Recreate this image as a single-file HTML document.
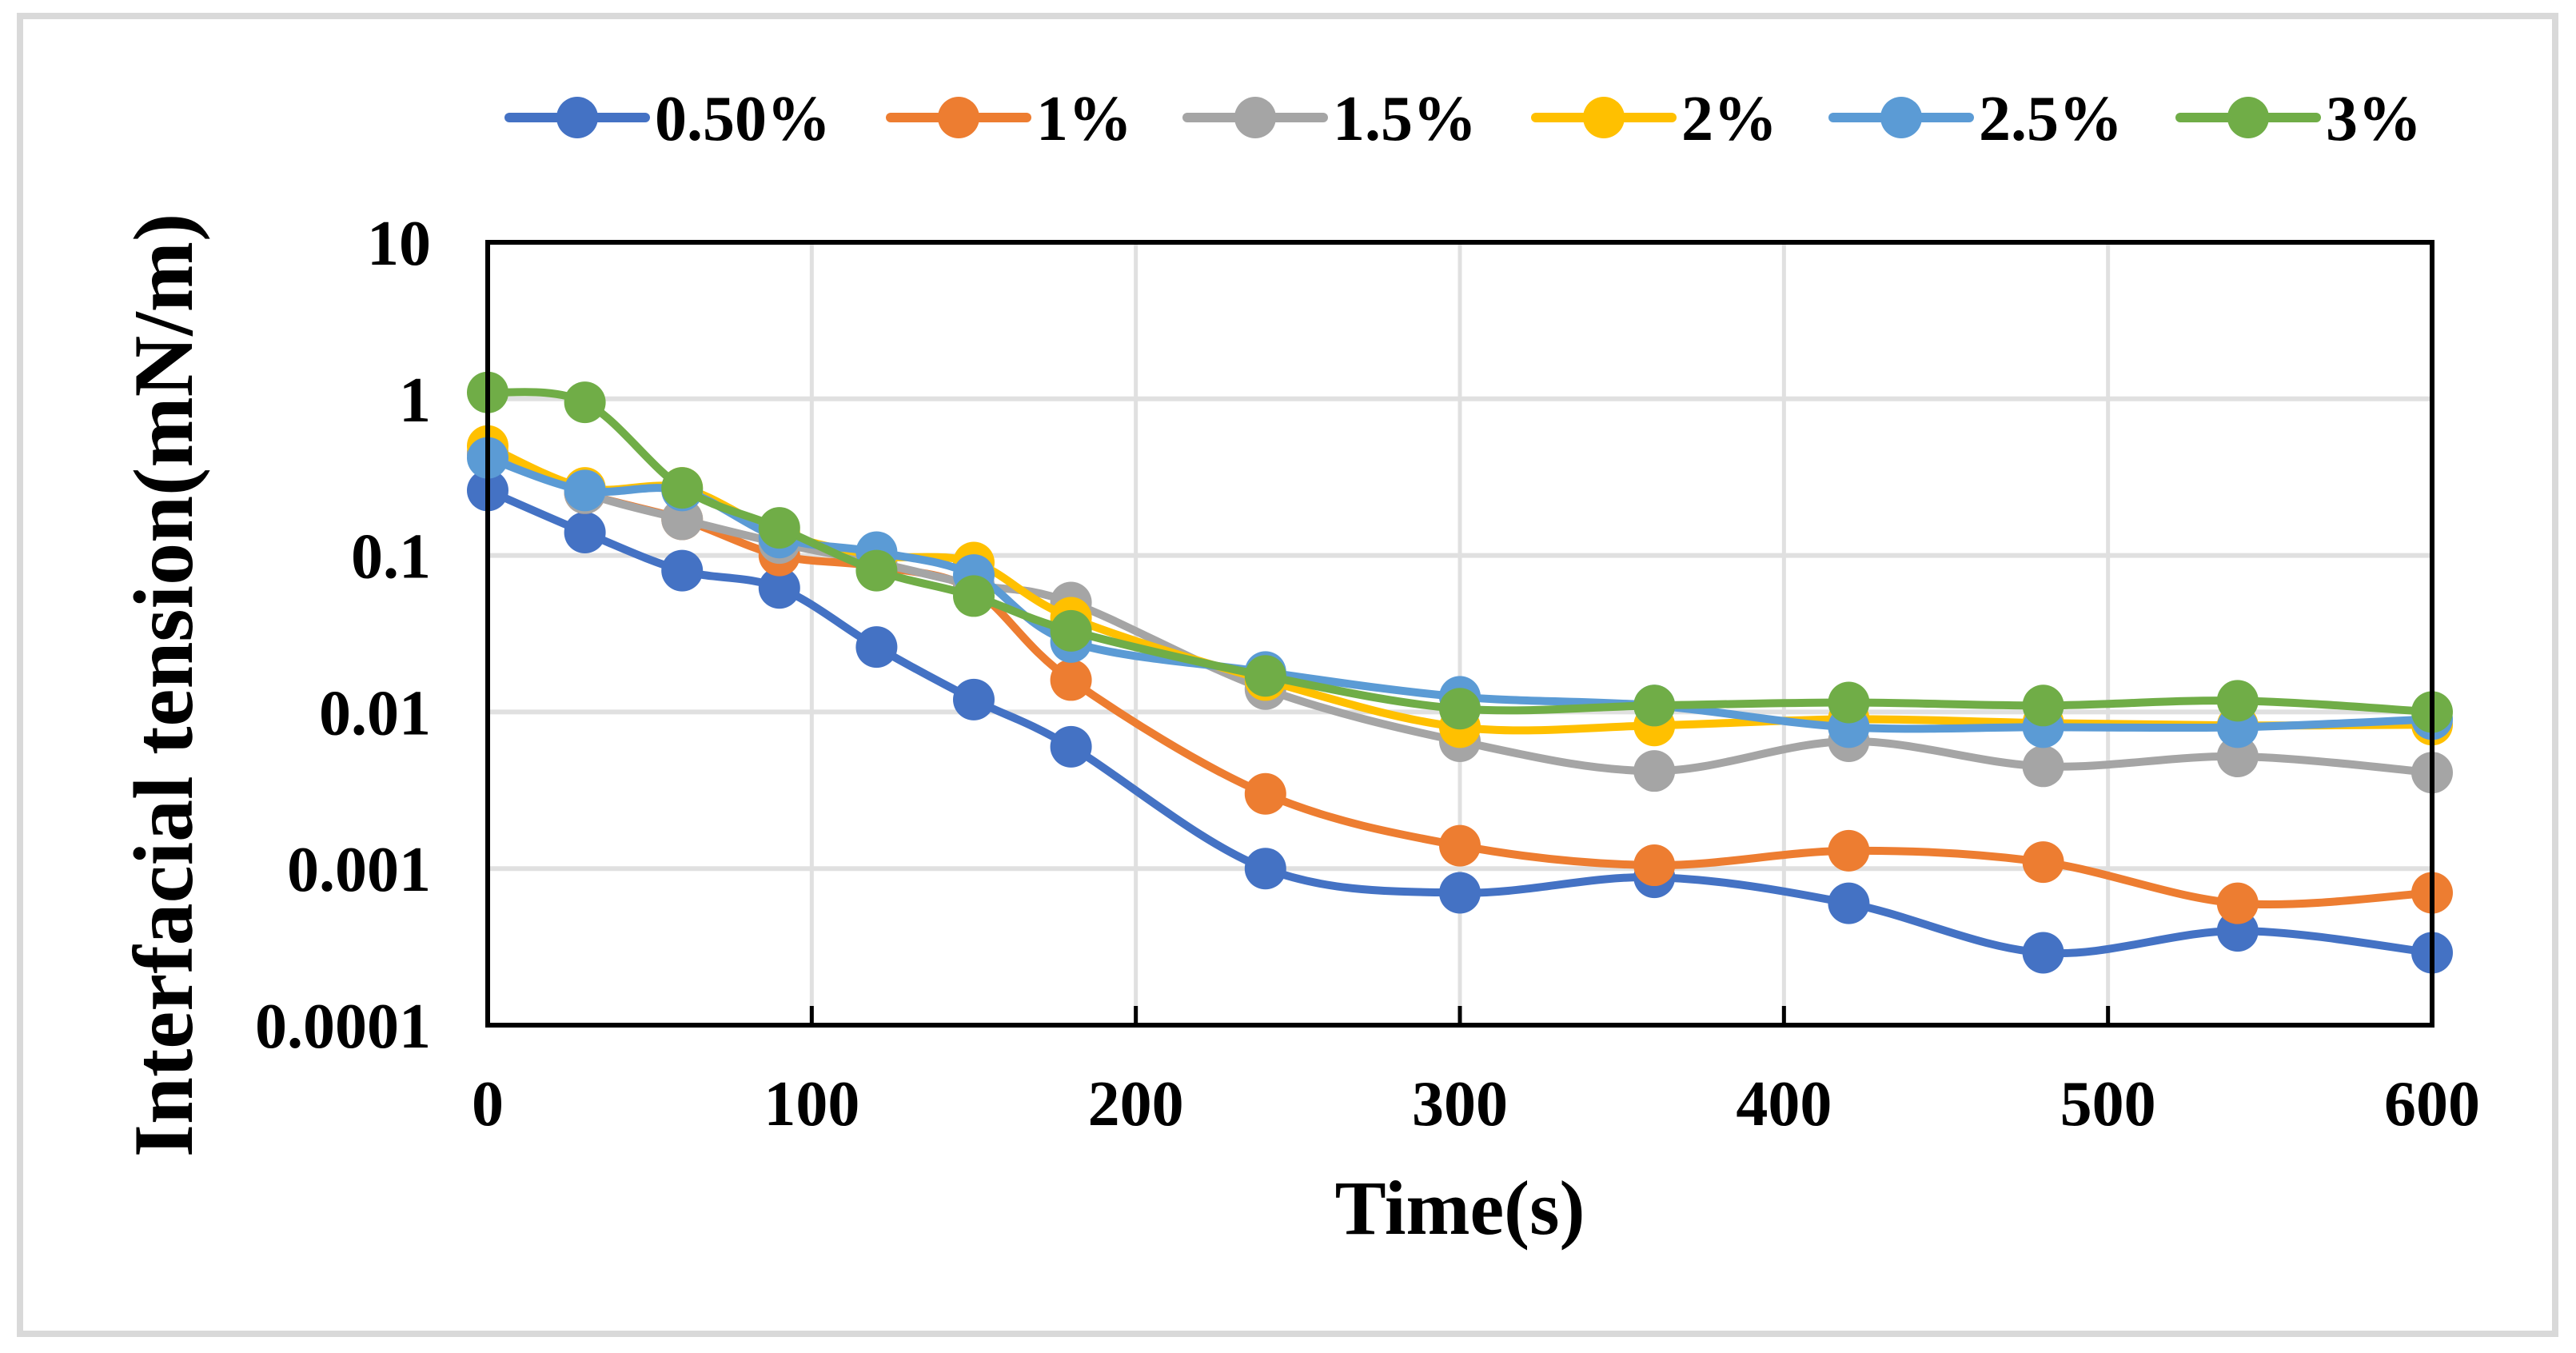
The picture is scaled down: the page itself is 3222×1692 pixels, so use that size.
<!DOCTYPE html>
<html><head><meta charset="utf-8"><style>
html,body{margin:0;padding:0;background:#fff}
svg{display:block;font-family:"Liberation Serif",serif;font-weight:bold}
</style></head><body>
<svg width="3222" height="1692" viewBox="0 0 3222 1692" xmlns="http://www.w3.org/2000/svg">
<rect x="25" y="20" width="3171" height="1648" fill="#fff" stroke="#d9d9d9" stroke-width="8"/>
<g id="grid"></g>
<g id="series"></g>
<rect x="610" y="303" width="2432" height="979" fill="none" stroke="#000" stroke-width="6"/>
<g id="ticks"></g>
<g id="legend"></g>
<text x="1826" y="1543" font-size="96" text-anchor="middle">Time(s)</text>
<text transform="translate(240,857) rotate(-90)" font-size="106" font-family="Liberation Serif, serif" font-weight="bold" text-anchor="middle">Interfacial tension(mN/m)</text>
</svg>
<script>
const times=[0,30,60,90,120,150,180,240,300,360,420,480,540,600];
const seriesNames=["0.50%","1%","1.5%","2%","2.5%","3%"];
const seriesColors=["#4472c4","#ed7d31","#a5a5a5","#ffc000","#5b9bd5","#70ad47"];
const s050=[0.26,0.14,0.08,0.062,0.026,0.012,0.006,0.001,0.0007,0.00088,0.0006,0.00029,0.0004,0.00029];
const s1=[0.45,0.25,0.17,0.1,0.085,0.06,0.016,0.003,0.0014,0.00105,0.0013,0.0011,0.0006,0.0007];
const s15=[0.45,0.25,0.17,0.12,0.09,0.065,0.05,0.014,0.0065,0.0042,0.0065,0.0045,0.0052,0.0041];
const s2=[0.5,0.27,0.27,0.14,0.1,0.09,0.04,0.016,0.008,0.0082,0.009,0.0085,0.0082,0.0083];
const s25=[0.42,0.26,0.26,0.13,0.105,0.075,0.028,0.018,0.0125,0.011,0.008,0.008,0.008,0.009];
const s3=[1.1,0.95,0.27,0.15,0.08,0.055,0.033,0.017,0.0105,0.011,0.0115,0.011,0.0118,0.01];
const xTicks=[0,100,200,300,400,500,600];
const yTicks=[10,1,0.1,0.01,0.001,0.0001];
const yTickLabels=["10","1","0.1","0.01","0.001","0.0001"];
const allSeries=[s050,s1,s15,s2,s25,s3];

const NS="http://www.w3.org/2000/svg";
const X0=610,X1=3042,Y0=303,Y1=1282;
const xs=t=>X0+(t-0)/(600-0)*(X1-X0);
const ys=v=>Y0+(1-Math.log10(v))/5*(Y1-Y0);
function mk(tag,attrs,parent){const e=document.createElementNS(NS,tag);for(const k in attrs)e.setAttribute(k,attrs[k]);parent.appendChild(e);return e;}
const grid=document.getElementById('grid'),ticks=document.getElementById('ticks'),ser=document.getElementById('series'),leg=document.getElementById('legend');
xTicks.forEach((t,i)=>{
  const x=xs(t);
  if(i>0&&i<xTicks.length-1){const g=mk('line',{x1:x,x2:x,y1:Y0,y2:Y1,stroke:'#e0e0e0','stroke-width':5},grid);
  
  
  const tk=mk('line',{x1:x,x2:x,y1:Y1-24,y2:Y1,stroke:'#000','stroke-width':5},ticks);
  
  }
  const tx=mk('text',{x:x,y:1407,'font-size':80,'text-anchor':'middle'},ticks);tx.textContent=String(t);
  
  
});
yTicks.forEach((v,i)=>{
  const y=ys(v);
  if(i>0&&i<yTicks.length-1){const g=mk('line',{x1:X0,x2:X1,y1:y,y2:y,stroke:'#e0e0e0','stroke-width':6},grid);
  
  }
  const tx=mk('text',{x:539,y:y+28,'font-size':80,'text-anchor':'end'},ticks);tx.textContent=yTickLabels[i];
  
  
});
function smooth(pts){
  let d='M'+pts[0][0]+','+pts[0][1];
  for(let i=0;i<pts.length-1;i++){
    const p0=pts[Math.max(0,i-1)],p1=pts[i],p2=pts[i+1],p3=pts[Math.min(pts.length-1,i+2)];
    const t=1/6;
    const c1=[p1[0]+(p2[0]-p0[0])*t,p1[1]+(p2[1]-p0[1])*t];
    const c2=[p2[0]-(p3[0]-p1[0])*t,p2[1]-(p3[1]-p1[1])*t];
    d+=' C'+c1+' '+c2+' '+p2;
  }
  return d;
}
allSeries.forEach((vals,si)=>{
  const g=mk('g',{},ser);
  
  
  const pts=vals.map((v,i)=>[xs(times[i]),ys(v)]);
  const p=mk('path',{d:smooth(pts),fill:'none',stroke:seriesColors[si],'stroke-width':10},g);
  
  
  pts.forEach(q=>{const c=mk('circle',{cx:q[0],cy:q[1],r:26,fill:seriesColors[si]},g);
    
    });
});
const legX=[637,1114,1485,1921,2293,2727];
seriesNames.forEach((n,i)=>{
  const g=mk('g',{},leg);
  
  
  mk('line',{x1:legX[i],x2:legX[i]+170,y1:147,y2:147,stroke:seriesColors[i],'stroke-width':12,'stroke-linecap':'round'},g);
  mk('circle',{cx:legX[i]+85,cy:147,r:26,fill:seriesColors[i]},g);
  const t=mk('text',{x:legX[i]+182,y:175,'font-size':80},g);t.textContent=n;
  
  
});
</script>
</body></html>
